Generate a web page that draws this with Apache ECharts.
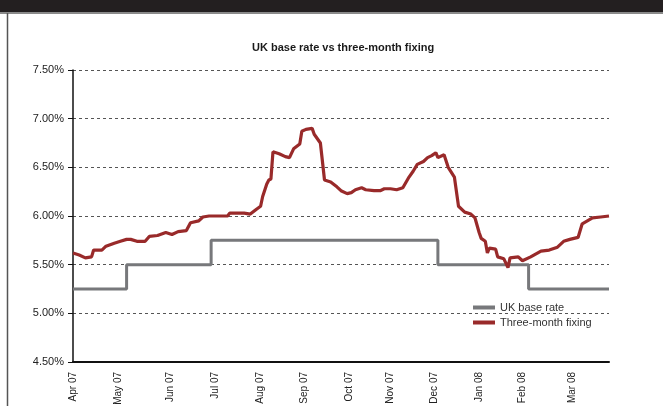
<!DOCTYPE html>
<html>
<head>
<meta charset="utf-8">
<script src="https://cdn.jsdelivr.net/npm/echarts@6/dist/echarts.min.js"></script>
<style>
html, body { margin: 0; padding: 0; background: #fff; }
#main { width: 663px; height: 406px; }
</style>
</head>
<body>
<div id="main"></div>
<script>
// x is a trading-day count from the start of April 2007
var monthTicks = [0, 22, 47, 69, 91, 112, 134, 154, 175, 197, 218, 242];
var monthLabels = ['Apr 07', 'May 07', 'Jun 07', 'Jul 07', 'Aug 07', 'Sep 07', 'Oct 07', 'Nov 07', 'Dec 07', 'Jan 08', 'Feb 08', 'Mar 08'];

var baseDays = [0, 26, 67, 177, 221, 260];
var baseRates = [5.25, 5.5, 5.75, 5.5, 5.25, 5.25];

var fixDays = [0, 3, 6, 9, 10, 14, 16, 20, 23, 26, 28, 31, 35, 37, 41, 45, 48, 51, 55, 57,
    61, 63, 66, 70, 75, 76, 83, 86, 89, 91, 92, 94, 95, 96, 97, 100, 103, 105, 107, 110,
    111, 113, 116, 117, 120, 122, 125, 128, 130, 133, 135, 137, 140, 142, 146, 149, 151, 154, 157, 160,
    163, 165, 167, 170, 172, 174, 176, 177, 180, 182, 185, 187, 190, 193, 195, 197, 198, 200, 201, 202,
    205, 206, 209, 211, 212, 216, 218, 222, 227, 231, 235, 238, 241, 245, 247, 252, 256, 260];
var fixRates = [5.62, 5.60, 5.57, 5.58, 5.65, 5.65, 5.69, 5.72, 5.74, 5.76, 5.76, 5.74, 5.74, 5.79, 5.80, 5.83, 5.81, 5.84, 5.85, 5.93,
    5.95, 5.99, 6.00, 6.00, 6.00, 6.03, 6.03, 6.02, 6.07, 6.10, 6.20, 6.33, 6.37, 6.38, 6.66, 6.64, 6.61, 6.60, 6.69, 6.74,
    6.87, 6.89, 6.90, 6.84, 6.75, 6.37, 6.35, 6.30, 6.26, 6.23, 6.24, 6.27, 6.29, 6.27, 6.26, 6.26, 6.28, 6.28, 6.27, 6.29,
    6.40, 6.46, 6.53, 6.56, 6.60, 6.62, 6.65, 6.60, 6.63, 6.50, 6.40, 6.10, 6.04, 6.02, 5.98, 5.83, 5.77, 5.74, 5.62, 5.67,
    5.66, 5.58, 5.56, 5.47, 5.57, 5.58, 5.54, 5.58, 5.64, 5.65, 5.68, 5.74, 5.76, 5.78, 5.92, 5.98, 5.99, 6.00];

var font = '"Liberation Sans", Arial, sans-serif';

var myChart = echarts.init(document.getElementById('main'));

var option = {
    backgroundColor: '#fff',
    animation: false,
    title: {
        text: 'UK base rate vs three-month fixing',
        left: 252,
        top: 42,
        padding: 0,
        textStyle: {
            color: '#1a1a1a',
            fontFamily: font,
            fontSize: 11,
            fontWeight: 'bold'
        }
    },
    legend: {
        orient: 'vertical',
        left: 473,
        top: 302,
        padding: 0,
        itemWidth: 22,
        itemHeight: 4,
        itemGap: 4,
        icon: 'rect',
        textStyle: {
            color: '#333',
            fontFamily: font,
            fontSize: 11
        },
        data: ['UK base rate', 'Three-month fixing']
    },
    grid: {
        left: 73,
        right: 54,
        top: 70,
        bottom: 44,
        containLabel: false,
        outerBoundsMode: 'none'
    },
    xAxis: {
        type: 'value',
        min: 0,
        max: 260,
        axisLine: { lineStyle: { color: '#111', width: 2 } },
        axisTick: { show: false },
        splitLine: { show: false },
        axisLabel: {
            customValues: monthTicks,
            rotate: 90,
            margin: 10,
            color: '#222',
            fontFamily: font,
            fontSize: 10,
            formatter: function (v) {
                return monthLabels[monthTicks.indexOf(v)];
            }
        }
    },
    yAxis: {
        type: 'value',
        min: 4.5,
        max: 7.5,
        interval: 0.5,
        axisLine: { show: true, lineStyle: { color: '#111', width: 1.5 } },
        axisTick: { show: true, length: 5, lineStyle: { color: '#111' } },
        splitLine: {
            lineStyle: { color: '#555', width: 1, type: [3, 3] }
        },
        axisLabel: {
            margin: 9,
            color: '#222',
            fontFamily: font,
            fontSize: 11,
            formatter: function (v) {
                return v.toFixed(2) + '%';
            }
        }
    },
    series: [
        {
            name: 'UK base rate',
            type: 'line',
            step: 'end',
            showSymbol: false,
            color: '#77787b',
            lineStyle: { color: '#77787b', width: 3 },
            data: baseDays.map(function (d, i) { return [d, baseRates[i]]; })
        },
        {
            name: 'Three-month fixing',
            type: 'line',
            showSymbol: false,
            color: '#992a2a',
            lineStyle: { color: '#992a2a', width: 3.2 },
            data: fixDays.map(function (d, i) { return [d, fixRates[i]]; })
        }
    ],
    graphic: [
        { type: 'rect', shape: { x: 0, y: 0, width: 663, height: 12 }, style: { fill: '#231f20' } },
        { type: 'line', shape: { x1: 0, y1: 13, x2: 663, y2: 13 }, style: { stroke: '#8a8a8a', lineWidth: 2 } },
        { type: 'line', shape: { x1: 7.5, y1: 13, x2: 7.5, y2: 406 }, style: { stroke: '#555', lineWidth: 1.5 } }
    ]
};

myChart.setOption(option);
</script>
</body>
</html>
